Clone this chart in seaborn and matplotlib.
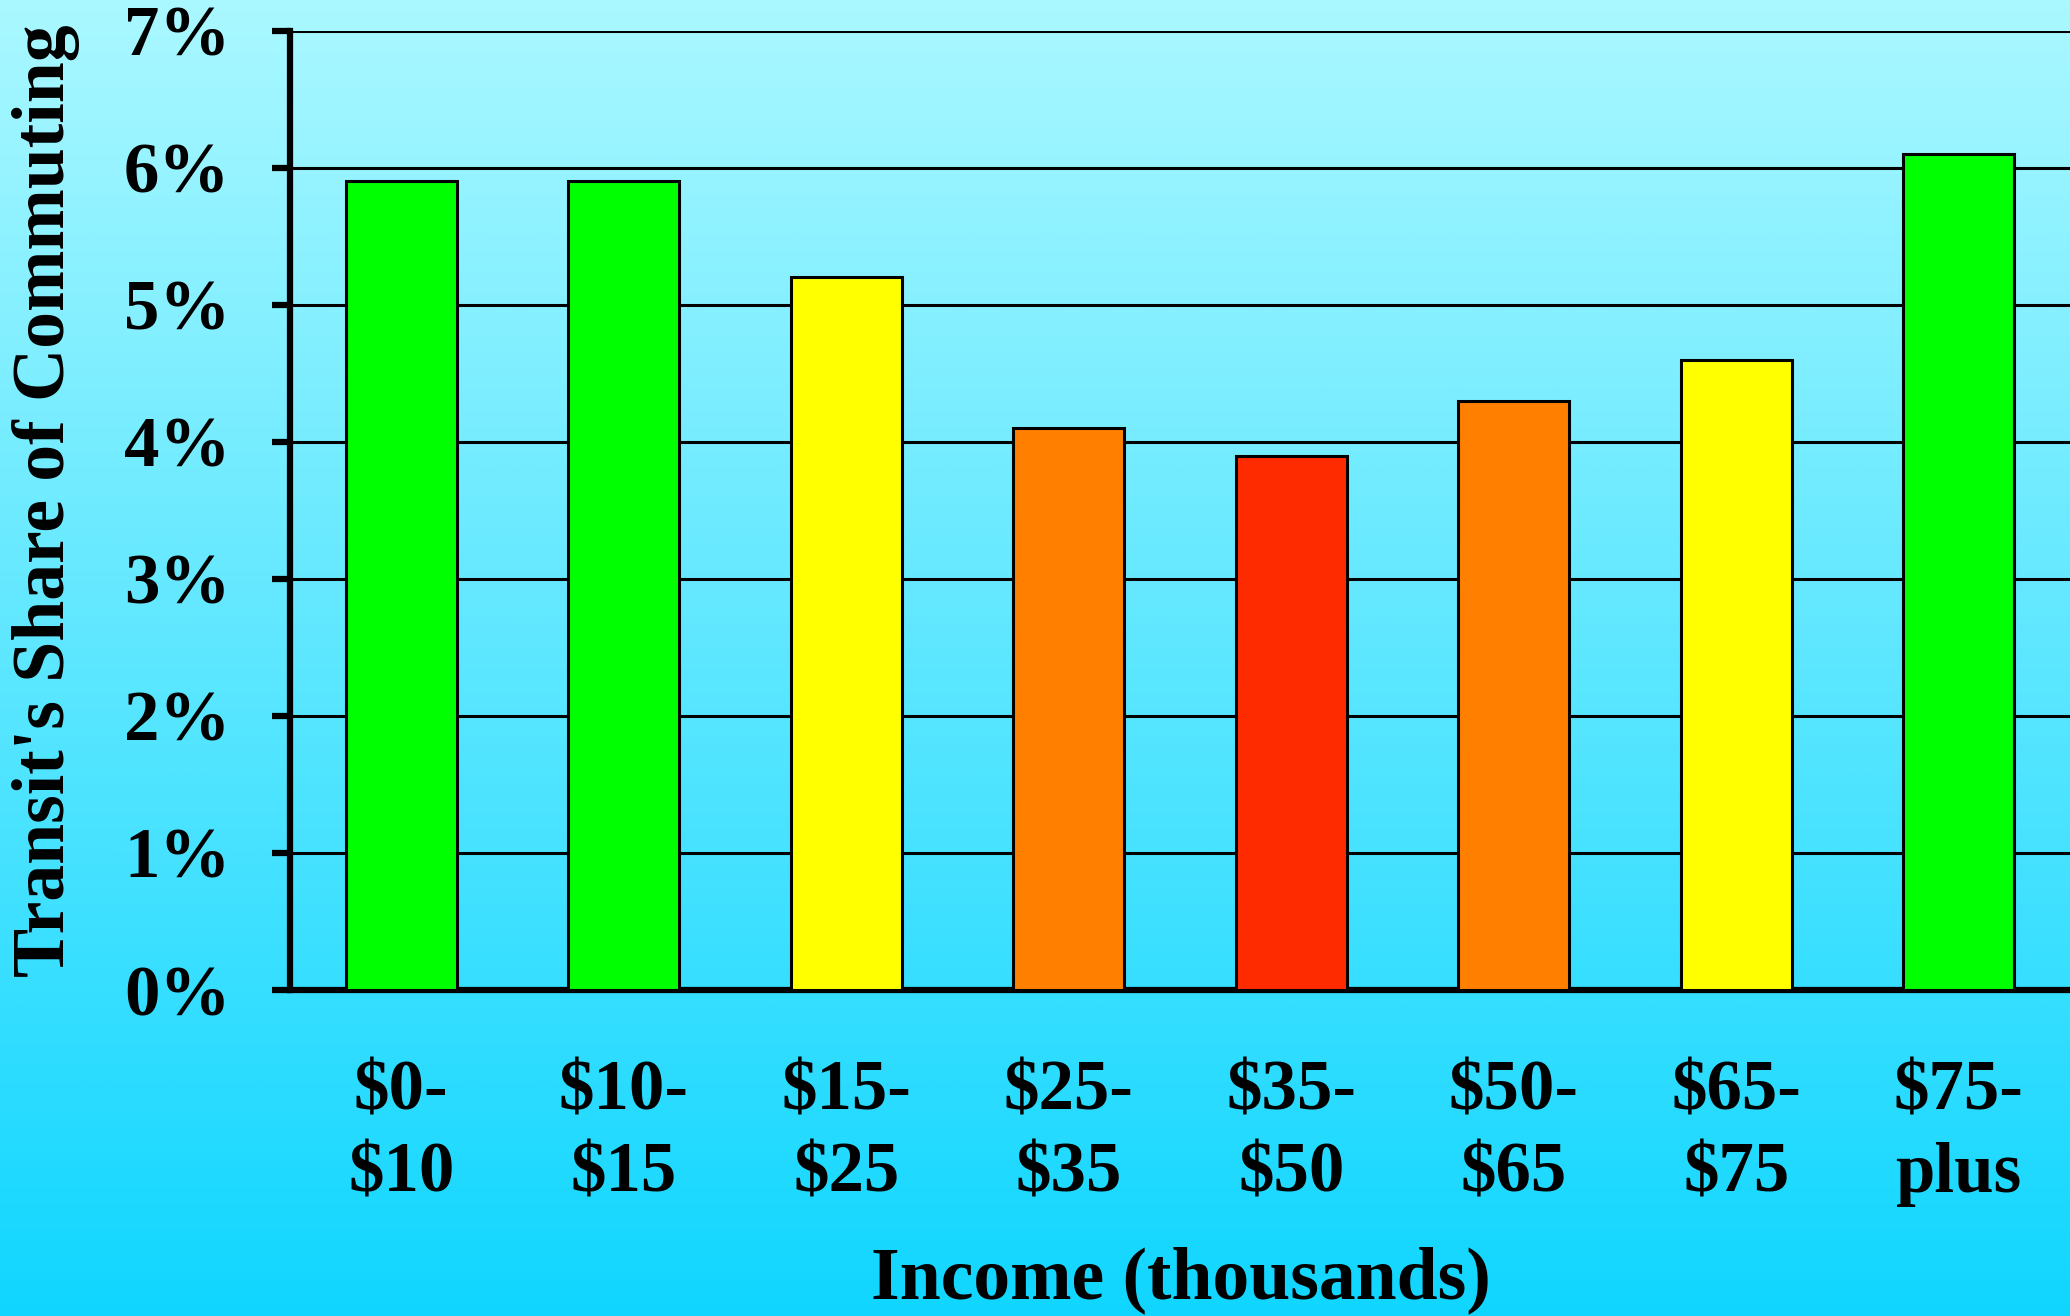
import numpy as np
import pandas as pd
import matplotlib
matplotlib.use("Agg")
import matplotlib.pyplot as plt
from matplotlib.colors import LinearSegmentedColormap
import seaborn as sns

# Transit share of commuting by household income bracket
income_brackets = ["$0-\n$10", "$10-\n$15", "$15-\n$25", "$25-\n$35",
                   "$35-\n$50", "$50-\n$65", "$65-\n$75", "$75-\nplus"]
transit_share = [5.9, 5.9, 5.2, 4.1, 3.9, 4.3, 4.6, 6.1]
bar_colors = ["#00FF00", "#00FF00", "#FFFF00", "#FF7F00",
              "#FF2B00", "#FF7F00", "#FFFF00", "#00FF00"]
y_ticks = [0, 1, 2, 3, 4, 5, 6, 7]
y_tick_labels = [f"{v}%" for v in y_ticks]

sns.set_theme(style="white")
plt.rcParams["font.family"] = ["Liberation Serif", "DejaVu Serif"]
plt.rcParams["font.weight"] = "bold"

fig = plt.figure(figsize=(20.7, 13.16), dpi=100)

# vertical cyan gradient behind everything
bg = fig.add_axes([0, 0, 1, 1], zorder=-10)
grad = np.linspace(0, 1, 512).reshape(-1, 1)
cmap = LinearSegmentedColormap.from_list("bg", ["#AAF8FF", "#10D6FF"])
bg.imshow(grad, aspect="auto", cmap=cmap, extent=[0, 1, 0, 1])
bg.set_axis_off()

ax = fig.add_axes([290 / 2070, 1 - 990 / 1316, 1 - 290 / 2070, (990 - 30.7) / 1316])
ax.set_facecolor("none")

df = pd.DataFrame({"income": income_brackets, "share": transit_share})
sns.barplot(data=df, x="income", y="share", hue="income", palette=bar_colors,
            legend=False, width=0.5, edgecolor="black", linewidth=2.2,
            saturation=1, ax=ax, zorder=3)

ax.set_xlim(-0.5, len(income_brackets) - 0.5)
ax.set_ylim(0, 7)
ax.set_yticks(y_ticks)
ax.set_yticklabels(y_tick_labels)
ax.yaxis.grid(True, color="black", linewidth=2.2)
ax.xaxis.grid(False)
ax.set_axisbelow(True)

for side in ["top", "right"]:
    ax.spines[side].set_visible(False)
for side in ["left", "bottom"]:
    ax.spines[side].set_visible(True)
    ax.spines[side].set_color("black")
    ax.spines[side].set_linewidth(4.5)

ax.tick_params(axis="y", which="major", direction="out", length=13, width=4.5,
               color="black", left=True, pad=30, labelsize=51)
ax.tick_params(axis="x", which="major", length=0, pad=50, labelsize=51)
for lbl in ax.get_xticklabels() + ax.get_yticklabels():
    lbl.set_fontweight("bold")
    lbl.set_color("black")
for lbl in ax.get_xticklabels():
    lbl.set_linespacing(1.35)

ax.set_xlabel("")
ax.set_ylabel("")

fig.text(1181 / 2070, 18 / 1316, "Income (thousands)", ha="center", va="baseline",
         fontsize=53, fontweight="bold", color="black")
fig.text(46 / 2070, 1 - 501 / 1316, "Transit's Share of Commuting", ha="center",
         va="center", rotation=90, fontsize=53, fontweight="bold", color="black")

fig.savefig("out.png", dpi=100)
